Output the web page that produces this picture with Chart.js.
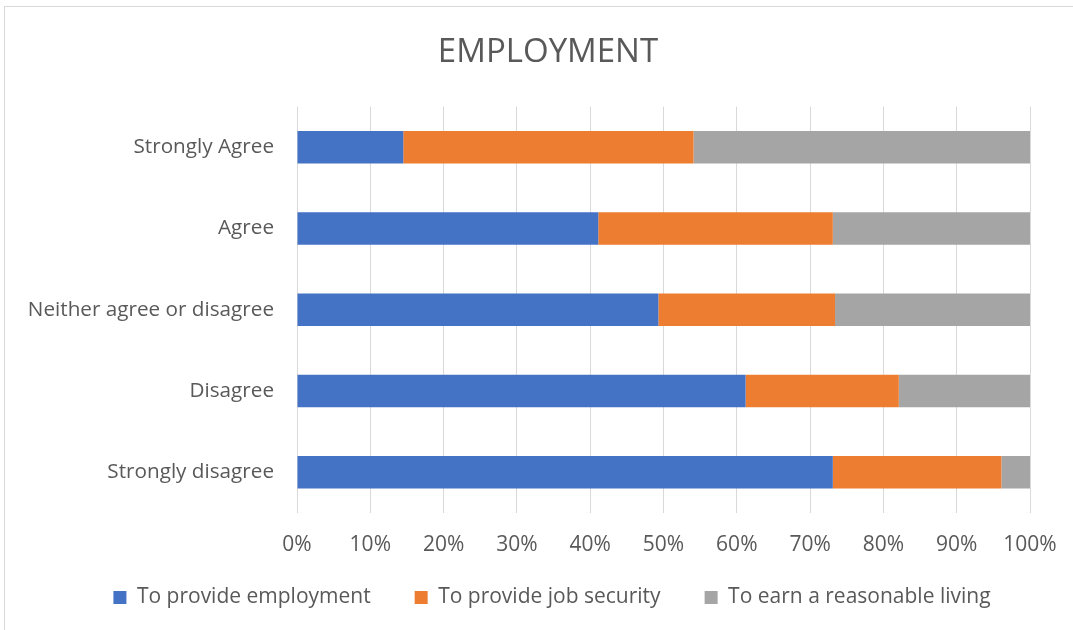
<!DOCTYPE html>
<html>
<head>
<meta charset="utf-8">
<script src="https://cdn.jsdelivr.net/npm/chart.js@4"></script>
<style>
    html, body { margin: 0; padding: 0; background: #fff; overflow: hidden; }
    #wrap { position: relative; width: 1073px; height: 630px; }
    #frame { position: absolute; left: 4px; top: 6px; width: 1100px; height: 700px; border: 1px solid #d9d9d9; pointer-events: none; }
</style>
</head>
<body>
<div id="wrap">
    <canvas id="chart"></canvas>
    <div id="frame"></div>
</div>
<script>
const categorias = ['Strongly Agree', 'Agree', 'Neither agree or disagree', 'Disagree', 'Strongly disagree'];
const emprego = [14.5, 41.1, 49.3, 61.2, 73.1];
const seguranca = [39.6, 32.0, 24.1, 20.9, 23.0];
const vida = [45.9, 26.9, 26.6, 17.9, 3.9];
const ticksX = [0, 10, 20, 30, 40, 50, 60, 70, 80, 90, 100];

const corTexto = '#595959';
const fonte = "'Open Sans', 'Liberation Sans', sans-serif";

// o Excel centra título e legenda na moldura toda, não só na área útil
const deslocar = {
    id: 'deslocar',
    beforeLayout(chart) {
        const leg = chart.legend;
        if (leg && !leg._ajustada) {
            const fitOriginal = leg.fit;
            leg.fit = function () {
                fitOriginal.call(this);
                this.height -= 28;
            };
            leg._ajustada = true;
        }
    },
    afterLayout(chart) {
        chart.titleBlock.left += 33;
        chart.titleBlock.right += 33;
        chart.legend.left += 37;
        chart.legend.right += 37;
        chart.legend.top -= 35;
        chart.legend.bottom = chart.height;
    }
};

const grafico = new Chart(document.getElementById('chart'), {
    type: 'bar',
    data: {
        labels: categorias,
        datasets: [{
            label: 'To provide employment',
            data: emprego,
            backgroundColor: '#4472C4',
            barPercentage: 0.4,
            categoryPercentage: 1
        }, {
            label: 'To provide job security',
            data: seguranca,
            backgroundColor: '#ED7D31',
            barPercentage: 0.4,
            categoryPercentage: 1
        }, {
            label: 'To earn a reasonable living',
            data: vida,
            backgroundColor: '#A5A5A5',
            barPercentage: 0.4,
            categoryPercentage: 1
        }]
    },
    options: {
        indexAxis: 'y',
        responsive: true,
        maintainAspectRatio: false,
        animation: false,
        layout: {
            padding: { top: 8, right: 43, bottom: 5, left: 0 }
        },
        scales: {
            x: {
                stacked: true,
                min: 0,
                max: 100,
                afterBuildTicks: (scale) => {
                    scale.ticks = ticksX.map(v => ({ value: v }));
                },
                afterFit: (scale) => {
                    scale.paddingLeft = 0;
                    scale.paddingRight = 0;
                },
                ticks: {
                    color: corTexto,
                    font: { family: fonte, size: 21 },
                    padding: 20,
                    minRotation: 0,
                    maxRotation: 0,
                    autoSkip: false,
                    callback: (v) => v + '%'
                },
                grid: { color: '#d9d9d9', lineWidth: 1, drawTicks: false },
                border: { display: false }
            },
            y: {
                stacked: true,
                afterFit: (scale) => { scale.width = 297; },
                ticks: {
                    color: corTexto,
                    font: { family: fonte, size: 20.7 },
                    padding: 23
                },
                grid: { display: false, drawTicks: false },
                border: { display: false }
            }
        },
        plugins: {
            title: {
                display: true,
                text: 'EMPLOYMENT',
                color: corTexto,
                font: { family: fonte, size: 33, weight: 'normal' },
                padding: { top: 25, bottom: 34 }
            },
            legend: {
                position: 'bottom',
                labels: {
                    color: corTexto,
                    font: { family: fonte, size: 21 },
                    boxWidth: 13,
                    boxHeight: 13,
                    padding: 44
                }
            },
            tooltip: { enabled: false }
        }
    },
    plugins: [deslocar]
});
</script>
</body>
</html>
